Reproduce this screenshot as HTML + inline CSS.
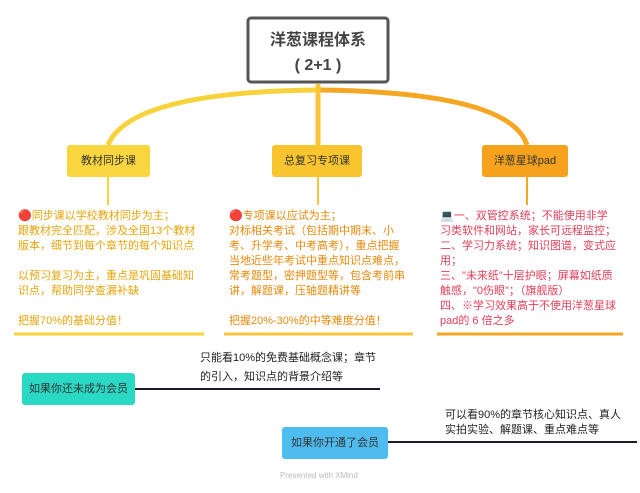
<!DOCTYPE html>
<html><head><meta charset="utf-8"><style>
body{margin:0;width:640px;height:493px;background:#fff;position:relative;overflow:hidden;font-family:"Liberation Sans","Noto Sans CJK SC",sans-serif}
.a{position:absolute}
.t{font-size:11px;line-height:15px;white-space:nowrap}
.b{font-size:11px;line-height:19px;white-space:nowrap}
.tp{position:absolute;height:32px;line-height:32px;font-size:11px;text-align:center;color:#333;border-radius:3px}
</style></head><body>
<svg class="a" style="left:0;top:0" width="640" height="493">
<path d="M318 90 Q130 92 108 145" stroke="#f8d23a" stroke-width="5" fill="none"/>
<path d="M318 90 Q510 92 527 145" stroke="#f5a623" stroke-width="5" fill="none"/>
<line x1="318" y1="84" x2="318" y2="145" stroke="#f8c53a" stroke-width="5"/>
<line x1="108" y1="177" x2="108" y2="205" stroke="#f8d23a" stroke-width="2"/>
<line x1="318" y1="177" x2="318" y2="205" stroke="#f8c53a" stroke-width="2"/>
<line x1="527" y1="177" x2="527" y2="205" stroke="#f5a623" stroke-width="2"/>
<rect x="248" y="18" width="140" height="64" rx="3" fill="#fff" stroke="#555" stroke-width="3"/>
<line x1="14" y1="334" x2="204" y2="334" stroke="#f8d23a" stroke-width="3"/>
<line x1="224" y1="334" x2="413" y2="334" stroke="#f8c53a" stroke-width="3"/>
<line x1="437" y1="334" x2="623" y2="334" stroke="#f5a623" stroke-width="3"/>
<line x1="135" y1="389" x2="380" y2="389" stroke="#1a1a2e" stroke-width="2"/>
<line x1="388" y1="442" x2="637" y2="442" stroke="#1a1a2e" stroke-width="2"/>
</svg>
<div class="a" style="left:248px;top:28px;width:140px;text-align:center;font-size:16px;line-height:25px;color:#444;font-weight:bold">洋葱课程体系<br>( 2+1 )</div>
<div class="tp" style="left:67px;top:145px;width:83px;background:#f9d640">教材同步课</div>
<div class="tp" style="left:272px;top:145px;width:90px;background:#f8c52e">总复习专项课</div>
<div class="tp" style="left:482px;top:145px;width:86px;background:#f6a21d">洋葱星球pad</div>
<div class="a t" style="left:18px;top:209px;color:#e8a50c">🔴同步课以学校教材同步为主；<br>跟教材完全匹配，涉及全国13个教材<br>版本，细节到每个章节的每个知识点<br><br>以预习复习为主，重点是巩固基础知<br>识点，帮助同学查漏补缺<br><br>把握70%的基础分值！</div>
<div class="a t" style="left:229px;top:209px;color:#e88a0c">🔴专项课以应试为主；<br>对标相关考试（包括期中期末、小<br>考、升学考、中考高考），重点把握<br>当地近些年考试中重点知识点难点，<br>常考题型，密押题型等，包含考前串<br>讲，解题课，压轴题精讲等<br><br>把握20%-30%的中等难度分值！</div>
<div class="a t" style="left:440px;top:209px;color:#e0405a">💻一、双管控系统；不能使用非学<br>习类软件和网站，家长可远程监控；<br>二、学习力系统；知识图谱，变式应<br>用；<br>三、"未来纸"十层护眼；屏幕如纸质<br>触感，"0伤眼"；（旗舰版）<br>四、※学习效果高于不使用洋葱星球<br>pad的 6 倍之多</div>
<div class="tp" style="left:22px;top:373px;width:113px;background:#2ad9c4">如果你还未成为会员</div>
<div class="tp" style="left:282px;top:427px;width:106px;background:#4fbcf0">如果你开通了会员</div>
<div class="a b" style="left:200px;top:349px;color:#222">只能看10%的免费基础概念课；章节<br>的引入，知识点的背景介绍等</div>
<div class="a t" style="left:445px;top:408px;color:#222">可以看90%的章节核心知识点、真人<br>实拍实验、解题课、重点难点等</div>
<div class="a" style="left:280px;top:471px;font-size:8px;color:#bbb">Presented with XMind</div>
</body></html>
